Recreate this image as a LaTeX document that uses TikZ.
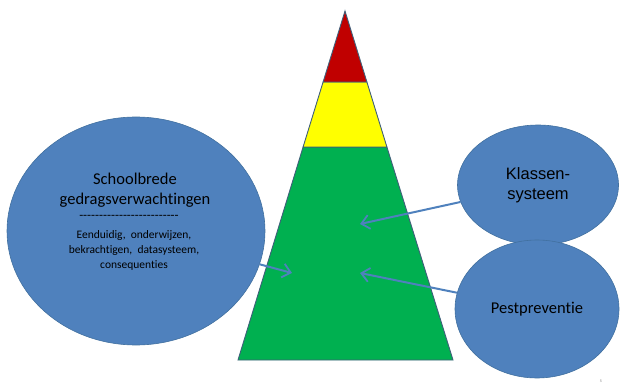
\documentclass[tikz,border=0pt]{standalone}
\usepackage{fontspec}
\setmainfont{Carlito}[Ligatures={TeXOff,NoCommon}]
\newfontfamily\arialf{Liberation Sans}
\usetikzlibrary{shapes.geometric,arrows.meta}
\definecolor{bubble}{HTML}{4F81BD}
\definecolor{bubbleedge}{HTML}{41709F}
\definecolor{pyredge}{HTML}{3F5F7A}
\definecolor{pgreen}{HTML}{00B050}
\definecolor{pyellow}{HTML}{FFFF00}
\definecolor{pred}{HTML}{C00000}
\tikzset{
  bubblebox/.style={ellipse, fill=bubble, draw=bubbleedge, line width=0.6pt, inner sep=0pt},
  band/.style={draw=pyredge, line width=0.9pt, line join=miter},
  arrowline/.style={draw=bubble, line width=2pt, -{Straight Barb[length=8pt,width=14pt,line width=1.8pt]}},
  label/.style={text=black, align=center, inner sep=0pt}
}
\begin{document}
\begin{tikzpicture}[x=1pt,y=-1pt]
\useasboundingbox (0,0) rectangle (620,387);
% pyramid
\path[band, fill=pgreen] (303.1,147) -- (386.9,147) -- (453,360) -- (238,360) -- cycle;
\path[band, fill=pyellow] (323.1,82) -- (366.9,82) -- (386.9,147) -- (303.1,147) -- cycle;
\path[band, fill=pred] (345,11) -- (366.9,82) -- (323.1,82) -- cycle;
\coordinate (tk) at (360,224);
\coordinate (tl) at (292,273);
\coordinate (tp) at (360,273);
% bubbles
\node[bubblebox, minimum width=258pt, minimum height=228pt] (school) at (136,231) {};
\node[label, font=\fontsize{16.5}{20}\selectfont] (schooltxt) at (135,190) {Schoolbrede\\gedragsverwachtingen};
\node[label, font=\fontsize{13}{13}\selectfont] (dashes) at (129,217) {-------------------------};
\node[label, font=\fontsize{11.5}{15}\selectfont] (detail) at (134,250) {Eenduidig,\ \ onderwijzen,\\bekrachtigen,\ \ datasysteem,\\consequenties};
\node[bubblebox, minimum width=161pt, minimum height=120pt, font=\arialf\fontsize{16.5}{20}\selectfont, align=center] (klas) at (538,185) {Klassen-\\systeem};
\node[bubblebox, minimum width=164pt, minimum height=138pt, font=\fontsize{16.5}{20}\selectfont] (pest) at (537,309) {Pestpreventie};
% arrows
\draw[arrowline] (klas) -- (tk);
\draw[arrowline] (pest) -- (tp);
\draw[arrowline] (school) -- (tl);
\node[text=gray, font=\fontsize{4}{4}\selectfont, inner sep=0pt] (pagenum) at (601,381) {5};
\end{tikzpicture}
\end{document}
